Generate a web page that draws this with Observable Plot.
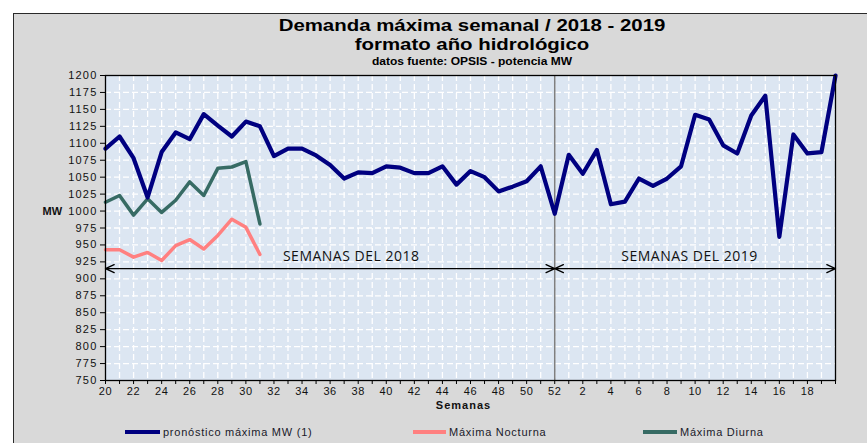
<!DOCTYPE html>
<html>
<head>
<meta charset="utf-8">
<script src="https://cdn.jsdelivr.net/npm/d3@7"></script>
<script src="https://cdn.jsdelivr.net/npm/@observablehq/plot@0.6"></script>
<style>
  body { margin: 0; background: #fff; }
  #wrap { position: relative; width: 867px; height: 443px; overflow: hidden; background: #fff;
          font-family: "Liberation Sans", Arial, sans-serif; }
  #bg { position: absolute; left: 13px; top: 13px; width: 900px; height: 500px;
        border: 1.5px solid #2a2a2a; background: #d9d9d9; }
  #chart { position: absolute; left: 0; top: 0; }
  .t { position: absolute; left: 0; width: 944px; text-align: center; font-weight: bold; color: #000;
       white-space: nowrap; transform: scaleX(1.2); transform-origin: 472px 0; }
  .lg { position: absolute; top: 424px; height: 16px; font-size: 11px; letter-spacing: 0.75px; color: #1a1a2a;
        line-height: 16px; white-space: nowrap; }
  .sw { position: absolute; top: 430px; height: 4px; }
  svg g[aria-label="y-axis tick label"] text { letter-spacing: 1.2px; }
  svg g[aria-label="x-axis tick label"] text { letter-spacing: 0.6px; }
</style>
</head>
<body>
<div id="wrap">
  <div id="bg"></div>
  <div class="t" style="top:16px;font-size:17px;line-height:20px;">Demanda máxima semanal / 2018 - 2019</div>
  <div class="t" style="top:35px;font-size:17px;line-height:20px;">formato año hidrológico</div>
  <div class="t" style="top:55px;font-size:10px;line-height:13px;">datos fuente: OPSIS - potencia MW</div>
  <div id="chart"></div>
  <div id="legend"></div>
</div>
<script>
// weeks of the hydrological year (2018 wk 20 .. 2019 wk 20)
const weeks = [20,21,22,23,24,25,26,27,28,29,30,31,32,33,34,35,36,37,38,39,40,41,42,43,44,45,46,47,48,49,50,51,52,
               1,2,3,4,5,6,7,8,9,10,11,12,13,14,15,16,17,18,19,20];
// pronóstico máxima MW (1)
const forecast = [1092,1110,1078,1020,1087,1116,1106,1143,1126,1110,1132,1125,1081,1092,1092,1082,1068,1048,1057,1056,
                  1066,1064,1056,1056,1066,1039,1059,1050,1029,1036,1044,1066,996,
                  1083,1055,1090,1010,1014,1048,1037,1048,1066,1142,1135,1097,1085,1141,1170,962,1113,1085,1087,1200];
// Máxima Nocturna (2018 wk 20..31)
const nocturna = [943,943,932,939,927,949,958,944,964,988,976,936];
// Máxima Diurna (2018 wk 20..31)
const diurna = [1013,1023,994,1018,998,1016,1043,1023,1063,1065,1073,981];
const yTicks = [750,775,800,825,850,875,900,925,950,975,1000,1025,1050,1075,1100,1125,1150,1175,1200];
const periodNames = ["SEMANAS DEL 2018","SEMANAS DEL 2019"];
const seriesNames = ["pronóstico máxima MW (1)","Máxima Nocturna","Máxima Diurna"];
const seriesColors = ["#000080","#ff8080","#376b64"];

const rows = weeks.map((w, i) => ({i, week: w, forecast: forecast[i],
  noct: i < nocturna.length ? nocturna[i] : null, diur: i < diurna.length ? diurna[i] : null}));
const last2018 = weeks.indexOf(52);
const lastIdx = weeks.length - 1;
const arrows = [
  {x1: 16, x2: 0}, {x1: 16, x2: last2018},
  {x1: 42, x2: last2018}, {x1: 42, x2: lastIdx}
];
const periods = [{x: 17.5, text: periodNames[0]}, {x: 41.6, text: periodNames[1]}];

const chart = Plot.plot({
  width: 867, height: 443,
  marginLeft: 105, marginRight: 32, marginTop: 75, marginBottom: 63,
  style: {background: "transparent", fontFamily: "'Liberation Sans', Arial, sans-serif", color: "#111"},
  x: {type: "linear", domain: [0, lastIdx]},
  y: {domain: [750, 1200]},
  marks: [
    Plot.frame({fill: "#dce6f2"}),
    Plot.gridY(yTicks.slice(1, -1), {stroke: "#fff", strokeOpacity: 1, strokeWidth: 1.3, strokeDasharray: "6,3"}),
    Plot.gridX(d3.range(1, lastIdx), {stroke: "#fff", strokeOpacity: 1, strokeWidth: 1.3, strokeDasharray: "6,3"}),
    Plot.ruleX([last2018], {stroke: "#7f7f7f", strokeWidth: 1.5}),
    Plot.arrow(arrows, {x1: "x1", x2: "x2", y1: () => 915, y2: () => 915, stroke: "#000",
      strokeWidth: 1.3, headLength: 11, headAngle: 50}),
    Plot.text(periods, {x: "x", y: () => 933, text: "text", fontSize: 14, fill: "#111",
      fontFamily: "'Open Sans', Lato, sans-serif"}),
    Plot.lineY(rows.filter(d => d.diur != null), {x: "i", y: "diur", stroke: seriesColors[2], strokeWidth: 3.5,
      strokeLinejoin: "round", strokeLinecap: "round"}),
    Plot.lineY(rows.filter(d => d.noct != null), {x: "i", y: "noct", stroke: seriesColors[1], strokeWidth: 3.5,
      strokeLinejoin: "round", strokeLinecap: "round"}),
    Plot.lineY(rows, {x: "i", y: "forecast", stroke: seriesColors[0], strokeWidth: 4.2,
      strokeLinejoin: "round", strokeLinecap: "round"}),
    Plot.frame({stroke: "#000", strokeWidth: 1.3}),
    Plot.axisY(yTicks, {tickSize: 5, tickPadding: 3, tickFormat: d => String(d), fontSize: 11, label: null,
      stroke: "#000"}),
    Plot.axisX(d3.range(0, lastIdx + 1), {tickSize: 4, tickPadding: 3, fontSize: 11, label: null, stroke: "#000",
      tickFormat: i => (i % 2 === 0 && i < lastIdx) ? String(weeks[i]) : ""}),
    Plot.text(["MW"], {y: () => 1000, frameAnchor: "left", dx: -63, text: d => d, fontWeight: "bold",
      fontSize: 11, fill: "#111"}),
    Plot.text(["Semanas"], {x: () => 25.5, frameAnchor: "bottom", dy: 28, text: d => d, fontWeight: "bold",
      fontSize: 11, fill: "#111"})
  ]
});
d3.select(chart).selectAll("text").filter(function() { return this.textContent.startsWith("SEMANAS"); })
  .attr("letter-spacing", "0.5px");
d3.select(chart).selectAll("text").filter(function() { return this.textContent === "Semanas"; })
  .attr("letter-spacing", "1px");
document.getElementById("chart").appendChild(chart);

// legend
const legendPos = [{sw: 125, tx: 163}, {sw: 413, tx: 449}, {sw: 643, tx: 680}];
const lg = document.getElementById("legend");
seriesNames.forEach((name, k) => {
  const s = document.createElement("div");
  s.className = "sw";
  s.style.left = legendPos[k].sw + "px";
  s.style.width = (legendPos[k].tx - legendPos[k].sw - 3) + "px";
  s.style.background = seriesColors[k];
  lg.appendChild(s);
  const t = document.createElement("div");
  t.className = "lg";
  t.style.left = legendPos[k].tx + "px";
  t.textContent = name;
  lg.appendChild(t);
});
</script>
</body>
</html>
